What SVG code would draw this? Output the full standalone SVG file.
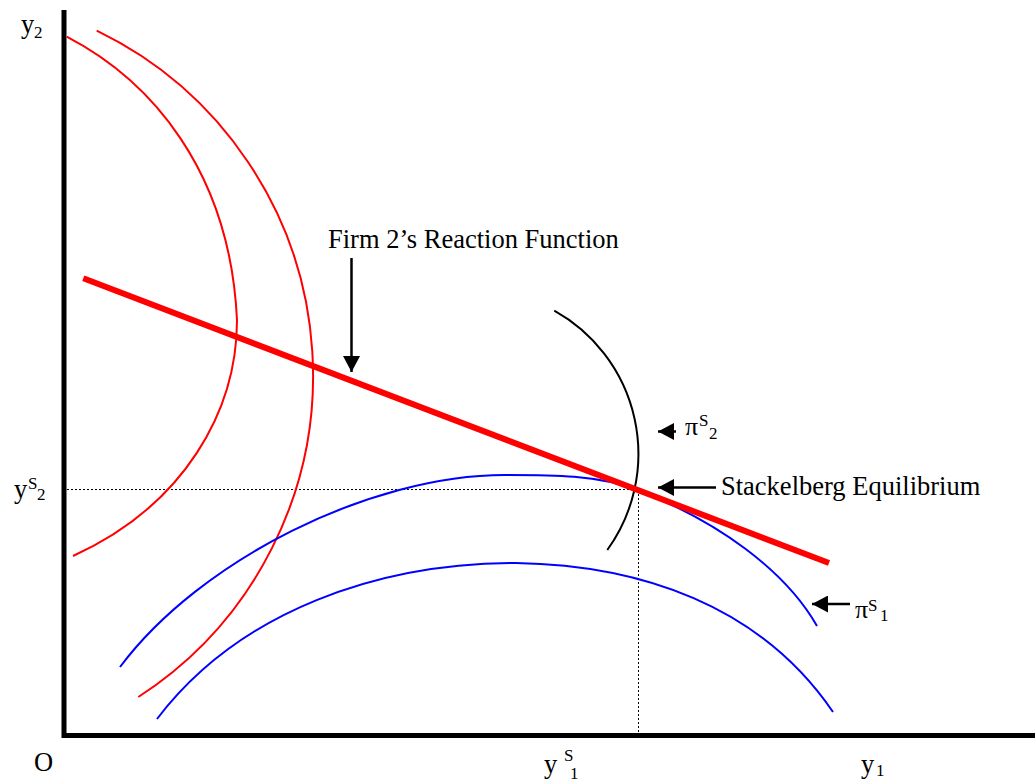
<svg xmlns="http://www.w3.org/2000/svg" width="1035" height="781" viewBox="0 0 1035 781">
<style>
.t{font-family:"Liberation Serif","Times New Roman",serif;fill:#000}
.big{font-size:26.5px}
.sm{font-size:17px}
.pi{font-size:26px}
.rc{fill:none;stroke:#ff0000;stroke-width:2}
.bc{fill:none;stroke:#0000ff;stroke-width:2}
.kc{fill:none;stroke:#000;stroke-width:2}
.dot{fill:none;stroke:#000;stroke-width:1;stroke-dasharray:2,2}
.arr{fill:none;stroke:#000;stroke-width:2.5;marker-end:url(#ah)}
</style>
<defs>
<marker id="ah" markerUnits="userSpaceOnUse" markerWidth="17" markerHeight="17" refX="16" refY="8.5" orient="auto">
<path d="M0,0 L16,8.5 L0,17 z" fill="#000"/>
</marker>
</defs>
<rect width="1035" height="781" fill="#fff"/>
<g id="axes">
<line x1="64" y1="10" x2="64" y2="738" stroke="#000" stroke-width="5"/>
<line x1="62" y1="735.5" x2="1035" y2="735.5" stroke="#000" stroke-width="5"/>
</g>
<g id="guides">
<line class="dot" x1="67" y1="489.5" x2="637" y2="489.5"/>
<line class="dot" x1="638.5" y1="490" x2="638.5" y2="733"/>
</g>
<g id="firm2-isoprofits">
<path class="rc" d="M66.7,36.7 C150,80 230,170 237,320 C237,410 185,505 73,556"/>
<path class="rc" d="M96.7,30.7 A383 383 0 0 1 138.3,697"/>
</g>
<g id="firm1-isoprofits">
<path class="bc" d="M120,667 C200,560 370,475 505,475 C549,475 597,474.6 637,490 C717,520.7 785,570 817,626"/>
<path class="bc" d="M157,719 C240,610 380,563 516,563 C640,565 760,605 833,712"/>
</g>
<g id="pi2-curve">
<path class="kc" d="M554.3,310.7 A164 164 0 0 1 607.3,550"/>
</g>
<g id="reaction-function">
<line x1="83.3" y1="278.3" x2="829" y2="563" stroke="#ff0000" stroke-width="6"/>
</g>
<g id="connectors">
<line class="arr" x1="351.5" y1="258" x2="351.5" y2="372"/>
<line class="arr" x1="716" y1="487.5" x2="658" y2="487.5"/>
<line class="arr" x1="676" y1="431.5" x2="658" y2="431.5"/>
<line class="arr" x1="850" y1="604" x2="812" y2="604"/>
</g>
<g id="labels">
<text class="t big" x="21" y="33">y</text><text class="t sm" x="34" y="38">2</text>
<text class="t big" x="14" y="498">y</text><text class="t sm" x="28" y="489">S</text><text class="t sm" x="37" y="500">2</text>
<text class="t big" x="34" y="771">O</text>
<text class="t big" x="544" y="773">y</text><text class="t sm" x="564" y="761">S</text><text class="t sm" x="570" y="779">1</text>
<text class="t big" x="861" y="773">y</text><text class="t sm" x="876" y="776">1</text>
<text class="t big" x="328" y="248">Firm 2’s Reaction Function</text>
<text class="t big" x="721" y="495">Stackelberg Equilibrium</text>
<text class="t pi" x="685" y="435">π</text><text class="t sm" x="699" y="426">S</text><text class="t sm" x="709" y="439">2</text>
<text class="t pi" x="855" y="618">π</text><text class="t sm" x="868" y="611">S</text><text class="t sm" x="880" y="621">1</text>
</g>
</svg>
